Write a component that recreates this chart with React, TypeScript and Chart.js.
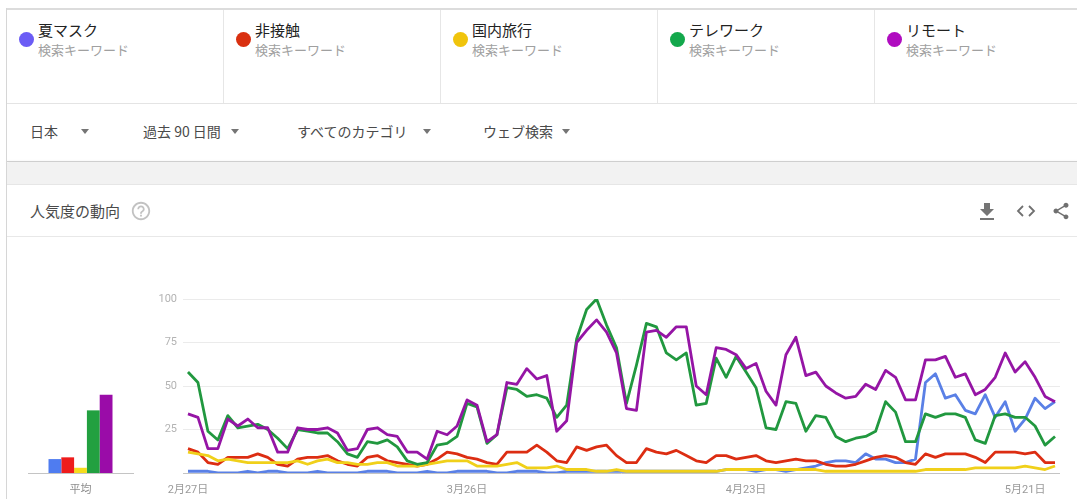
import React, { useEffect, useRef } from 'react';
import { Chart, registerables } from 'chart.js';

Chart.register(...registerables);

const dates = [
  '2月27日', '2月28日', '2月29日',
  '3月1日', '3月2日', '3月3日', '3月4日', '3月5日', '3月6日', '3月7日', '3月8日', '3月9日', '3月10日',
  '3月11日', '3月12日', '3月13日', '3月14日', '3月15日', '3月16日', '3月17日', '3月18日', '3月19日', '3月20日',
  '3月21日', '3月22日', '3月23日', '3月24日', '3月25日', '3月26日', '3月27日', '3月28日', '3月29日', '3月30日', '3月31日',
  '4月1日', '4月2日', '4月3日', '4月4日', '4月5日', '4月6日', '4月7日', '4月8日', '4月9日', '4月10日',
  '4月11日', '4月12日', '4月13日', '4月14日', '4月15日', '4月16日', '4月17日', '4月18日', '4月19日', '4月20日',
  '4月21日', '4月22日', '4月23日', '4月24日', '4月25日', '4月26日', '4月27日', '4月28日', '4月29日', '4月30日',
  '5月1日', '5月2日', '5月3日', '5月4日', '5月5日', '5月6日', '5月7日', '5月8日', '5月9日', '5月10日',
  '5月11日', '5月12日', '5月13日', '5月14日', '5月15日', '5月16日', '5月17日', '5月18日', '5月19日', '5月20日',
  '5月21日', '5月22日', '5月23日', '5月24日',
];

const xTickLabels = ['2月27日', '3月26日', '4月23日', '5月21日'];
const yTickLabels = [25, 50, 75, 100];

const seriesNames = ['夏マスク', '非接触', '国内旅行', 'テレワーク', 'リモート'];

const natsuMask = [
  1, 1, 1, 0, 0, 0, 1, 0, 1, 1, 0, 0, 0, 1, 0, 0, 0, 0, 1, 1, 1, 0,
  0, 0, 1, 0, 0, 1, 1, 1, 1, 0, 0, 1, 1, 1, 0, 0, 1, 1, 1, 1, 1, 1,
  1, 1, 1, 1, 1, 1, 1, 1, 1, 1, 2, 2, 2, 1, 2, 2, 1, 2, 3, 4, 6, 7,
  7, 6, 11, 8, 8, 6, 6, 8, 52, 57, 43, 45, 36, 34, 45, 32, 41, 24, 31, 43, 37, 41,
];
const hiSesshoku = [
  14, 12, 6, 5, 9, 9, 9, 11, 9, 5, 4, 8, 9, 9, 10, 7, 5, 4, 9, 10, 7, 6,
  5, 4, 5, 8, 12, 11, 9, 8, 6, 5, 12, 12, 12, 16, 12, 7, 6, 15, 13, 15, 16, 10,
  6, 6, 14, 12, 11, 13, 10, 7, 6, 10, 10, 8, 9, 10, 7, 6, 7, 8, 7, 7, 5, 4,
  4, 5, 7, 9, 10, 9, 6, 5, 11, 9, 11, 11, 11, 9, 6, 12, 12, 12, 11, 12, 6, 6,
];
const kokunaiRyoko = [
  12, 11, 10, 7, 8, 7, 6, 6, 6, 6, 6, 7, 5, 7, 8, 6, 6, 5, 5, 6, 6, 4,
  4, 4, 5, 6, 7, 7, 7, 4, 4, 4, 5, 6, 3, 3, 3, 4, 2, 2, 2, 1, 1, 2,
  1, 1, 1, 1, 1, 1, 1, 1, 1, 1, 2, 2, 2, 2, 2, 2, 2, 2, 2, 2, 1, 1,
  1, 1, 1, 1, 1, 1, 1, 1, 2, 2, 2, 2, 2, 3, 3, 3, 3, 3, 4, 3, 2, 4,
];
const telework = [
  58, 52, 24, 19, 33, 26, 27, 28, 25, 20, 14, 25, 24, 23, 23, 18, 11, 9, 18, 17, 19, 15,
  7, 5, 6, 16, 17, 21, 40, 38, 17, 22, 49, 48, 44, 45, 43, 32, 39, 77, 94, 100, 85, 72,
  40, 62, 86, 84, 69, 65, 69, 39, 40, 66, 55, 67, 58, 49, 26, 25, 41, 40, 24, 33, 32, 21,
  18, 20, 21, 24, 41, 35, 18, 18, 34, 32, 34, 34, 32, 19, 17, 33, 34, 32, 32, 27, 16, 21,
];
const remote = [
  34, 32, 14, 14, 31, 27, 31, 26, 26, 12, 12, 26, 25, 25, 26, 23, 13, 14, 25, 26, 22, 21,
  12, 12, 8, 24, 22, 27, 42, 39, 18, 22, 52, 51, 60, 54, 56, 24, 30, 75, 82, 88, 81, 69,
  37, 36, 81, 82, 78, 84, 84, 50, 45, 72, 71, 68, 60, 63, 47, 39, 68, 78, 56, 58, 50, 46,
  43, 44, 51, 48, 59, 55, 42, 42, 65, 65, 67, 55, 57, 45, 48, 55, 69, 58, 64, 55, 44, 41,
];

const averages = [8, 9, 3, 36, 45];

const seriesValues = [natsuMask, hiSesshoku, kokunaiRyoko, telework, remote];
const lineColors = ['#5a80e6', '#dc2d12', '#f0d01a', '#21983f', '#9515a5'];
const barColors = ['#4f7cf0', '#ee1c1c', '#f5dc1e', '#22a040', '#9a0ca8'];
const dotColors = ['#6b5cf5', '#d93010', '#f0c40c', '#13a84c', '#b00cc0'];

const filterItems = [
  { text: '日本', left: 30, arrow: 85 },
  { text: '過去 90 日間', left: 143, arrow: 235 },
  { text: 'すべてのカテゴリ', left: 297, arrow: 427 },
  { text: 'ウェブ検索', left: 483, arrow: 566 },
];

const FONT = "'Noto Sans CJK JP', 'Noto Sans', sans-serif";
const CHART_FONT = "Roboto, 'Noto Sans CJK JP', sans-serif";

function TrendLines() {
  const ref = useRef<HTMLCanvasElement | null>(null);
  useEffect(() => {
    if (!ref.current) return;
    const chart = new Chart(ref.current, {
      type: 'line',
      data: {
        labels: dates,
        datasets: seriesNames.map((name, i) => ({
          label: name,
          data: seriesValues[i],
          borderColor: lineColors[i],
          backgroundColor: lineColors[i],
          borderWidth: 2.8,
          pointRadius: 0,
          tension: 0,
          fill: false,
          borderJoinStyle: 'round' as const,
          order: 5 - i,
        })),
      },
      options: {
        animation: false,
        responsive: false,
        layout: { padding: { top: 19, right: 17, left: 0, bottom: 0 } },
        plugins: { legend: { display: false }, tooltip: { enabled: false } },
        scales: {
          x: {
            offset: true,
            grid: { display: false },
            border: { display: false },
            ticks: {
              autoSkip: false,
              maxRotation: 0,
              minRotation: 0,
              padding: 3,
              color: '#9a9a9a',
              font: { size: 11, family: CHART_FONT },
              callback: (_v: any, i: number) => (xTickLabels.includes(dates[i]) ? dates[i] : ''),
            },
            afterFit: (s: any) => {
              s.height = 26;
            },
          },
          y: {
            min: 0,
            max: 100,
            ticks: {
              stepSize: 25,
              padding: 6,
              color: '#b3b3b3',
              font: { size: 11, family: CHART_FONT },
              callback: (v: any) => (yTickLabels.includes(Number(v)) ? String(v) : ''),
            },
            grid: {
              drawTicks: false,
              lineWidth: 1,
              color: (c: any) => (c.tick && c.tick.value === 0 ? '#c4c4c4' : '#ebebeb'),
            },
            border: { display: false },
            afterFit: (s: any) => {
              s.width = 43;
            },
          },
        },
      },
    });
    return () => chart.destroy();
  }, []);
  return (
    <canvas
      ref={ref}
      width={937}
      height={219}
      style={{ position: 'absolute', left: 140, top: 280, width: 937, height: 219 }}
    />
  );
}

function AverageBars() {
  const ref = useRef<HTMLCanvasElement | null>(null);
  useEffect(() => {
    if (!ref.current) return;
    const chart = new Chart(ref.current, {
      type: 'bar',
      data: {
        labels: ['平均'],
        datasets: seriesNames.map((name, i) => ({
          label: name,
          data: [averages[i]],
          backgroundColor: barColors[i],
          borderWidth: 0,
          categoryPercentage: 64 / 105,
          barPercentage: 1,
        })),
      },
      options: {
        animation: false,
        responsive: false,
        layout: { padding: { top: 19, left: 28, right: 7, bottom: 0 } },
        plugins: { legend: { display: false }, tooltip: { enabled: false } },
        scales: {
          x: {
            grid: { display: false },
            border: { display: true, color: '#c4c4c4', width: 1 },
            ticks: { color: '#8c8c8c', padding: 3, font: { size: 11, family: CHART_FONT } },
            afterFit: (s: any) => {
              s.height = 26;
            },
          },
          y: { display: false, min: 0, max: 100 },
        },
      },
    });
    return () => chart.destroy();
  }, []);
  return (
    <canvas
      ref={ref}
      width={140}
      height={219}
      style={{ position: 'absolute', left: 0, top: 280, width: 140, height: 219 }}
    />
  );
}

const abs = (s: React.CSSProperties): React.CSSProperties => ({ position: 'absolute', ...s });

export default function App() {
  return (
    <div
      style={{
        position: 'fixed',
        left: 0,
        top: 0,
        width: 1077,
        height: 499,
        overflow: 'hidden',
        background: '#ffffff',
        fontFamily: FONT,
      }}
    >
      {/* legend cards */}
      <div style={abs({ left: 6, top: 8, width: 1080, height: 2, background: '#dcdcdc' })} />
      <div style={abs({ left: 6, top: 103, width: 1080, height: 1, background: '#e4e4e4' })} />
      {seriesNames.map((name, k) => {
        const colX = 6 + 217 * k;
        return (
          <React.Fragment key={name}>
            {k > 0 && <div style={abs({ left: colX, top: 10, width: 1, height: 93, background: '#e6e6e6' })} />}
            <div
              style={abs({
                left: colX + 12.5,
                top: 31.5,
                width: 15,
                height: 15,
                borderRadius: '50%',
                background: dotColors[k],
              })}
            />
            <div style={abs({ left: colX + 32, top: 20, fontSize: 15, lineHeight: '20px', color: '#222', whiteSpace: 'nowrap' })}>
              {name}
            </div>
            <div style={abs({ left: colX + 32, top: 41, fontSize: 13, lineHeight: '18px', color: '#a0a0a0', whiteSpace: 'nowrap' })}>
              検索キーワード
            </div>
          </React.Fragment>
        );
      })}

      {/* filter row */}
      {filterItems.map((f) => (
        <React.Fragment key={f.text}>
          <div style={abs({ left: f.left, top: 121, fontSize: 14, lineHeight: '20px', color: '#4a4a4a', whiteSpace: 'nowrap' })}>
            {f.text}
          </div>
          <div
            style={abs({
              left: f.arrow - 4,
              top: 129,
              width: 0,
              height: 0,
              borderLeft: '4px solid transparent',
              borderRight: '4px solid transparent',
              borderTop: '5px solid #757575',
            })}
          />
        </React.Fragment>
      ))}
      <div
        style={abs({
          left: 7,
          top: 161,
          width: 1080,
          height: 1,
          background: '#cfcfcf',
          boxShadow: '0 1px 3px rgba(0,0,0,0.18)',
        })}
      />
      <div style={abs({ left: 7, top: 163, width: 1080, height: 21, background: '#f2f2f2' })} />

      {/* chart card header */}
      <div style={abs({ left: 7, top: 184, width: 1080, height: 1, background: '#e6e6e6' })} />
      <div style={abs({ left: 30, top: 200, fontSize: 15, lineHeight: '22px', color: '#4a4a4a', whiteSpace: 'nowrap' })}>
        人気度の動向
      </div>
      <svg style={abs({ left: 130, top: 200 })} width={22} height={22} viewBox="0 0 24 24">
        <path
          fill="#c2c2c2"
          d="M11 18h2v-2h-2v2zm1-16C6.48 2 2 6.48 2 12s4.48 10 10 10 10-4.48 10-10S17.52 2 12 2zm0 18c-4.41 0-8-3.59-8-8s3.59-8 8-8 8 3.59 8 8-3.590 8-8 8zm0-14c-2.21 0-4 1.79-4 4h2c0-1.1.9-2 2-2s2 .9 2 2c0 2-3 1.75-3 5h2c0-2.25 3-2.5 3-5 0-2.21-1.79-4-4-4z"
        />
      </svg>
      <svg style={abs({ left: 975, top: 200 })} width={24} height={24} viewBox="0 0 24 24">
        <path fill="#757575" d="M19 9h-4V3H9v6H5l7 7 7-7zM5 18v2h14v-2H5z" />
      </svg>
      <svg style={abs({ left: 1016, top: 202 })} width={20} height={18} viewBox="0 0 20 18">
        <polyline points="7,4 2,9 7,14" fill="none" stroke="#707070" strokeWidth={1.8} />
        <polyline points="13,4 18,9 13,14" fill="none" stroke="#707070" strokeWidth={1.8} />
      </svg>
      <svg style={abs({ left: 1051, top: 201 })} width={20} height={20} viewBox="0 0 24 24">
        <path
          fill="#707070"
          d="M18 16.08c-.76 0-1.44.3-1.96.77L8.91 12.7c.05-.23.09-.46.09-.7s-.04-.47-.09-.7l7.05-4.11c.54.5 1.25.81 2.04.81 1.66 0 3-1.34 3-3s-1.34-3-3-3-3 1.34-3 3c0 .24.04.47.09.7L8.04 9.81C7.5 9.31 6.79 9 6 9c-1.66 0-3 1.34-3 3s1.34 3 3 3c.79 0 1.5-.31 2.040-.81l7.12 4.16c-.05.21-.08.43-.08.65 0 1.61 1.31 2.92 2.92 2.92 1.61 0 2.92-1.31 2.92-2.92s-1.31-2.92-2.92-2.92z"
        />
      </svg>
      <div style={abs({ left: 7, top: 236, width: 1080, height: 1, background: '#e8e8e8' })} />

      {/* left frame border */}
      <div style={abs({ left: 6, top: 8, width: 1, height: 491, background: '#d6d6d6' })} />

      <AverageBars />
      <TrendLines />
    </div>
  );
}
